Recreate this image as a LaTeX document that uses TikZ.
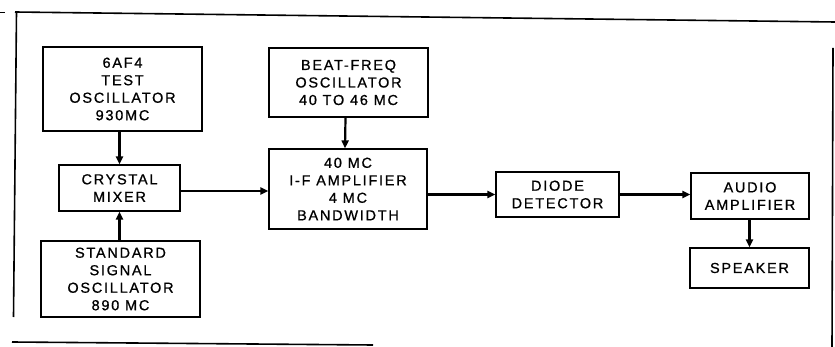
\documentclass[tikz,border=0pt]{standalone}
\usepackage{fontspec}
\setmainfont[LetterSpace=12,FakeBold=0.8]{Liberation Sans}
\usetikzlibrary{arrows.meta}
\begin{document}
\begin{tikzpicture}[x=1pt,y=-1pt,
  blk/.style={draw,line width=1.2pt,align=center,inner sep=0pt,
    font=\fontsize{14.5}{17.5}\selectfont},
  arr/.style={line width=2.2pt,-{Triangle[length=8pt,width=7pt]}},
  frame/.style={line width=1.6pt}]
\useasboundingbox (0,0) rectangle (835,347);
% frame
\draw[frame] (15,12) -- (835,22);
\draw[frame] (16.5,12) -- (13.5,317);
\draw[frame] (12,342) -- (373,345);
\draw[frame] (833,48) -- (832,347);
\draw[line width=0.8pt] (0,12) -- (5,12);
% blocks
\node[blk,minimum width=159pt,minimum height=84pt] (tosc) at (122.5,89) {6AF4\\TEST\\OSCILLATOR\\930MC};
\node[blk,minimum width=121pt,minimum height=46pt] (mix) at (119.5,188) {CRYSTAL\\MIXER};
\node[blk,minimum width=159pt,minimum height=76pt] (sso) at (120.5,279) {STANDARD\\SIGNAL\\OSCILLATOR\\890 MC};
\node[blk,minimum width=159pt,minimum height=69pt] (bfo) at (348.5,82.5) {BEAT-FREQ\\OSCILLATOR\\40 TO 46 MC};
\node[blk,minimum width=158pt,minimum height=80pt] (ifa) at (348,189) {40 MC\\I-F AMPLIFIER\\4 MC\\BANDWIDTH};
\node[blk,minimum width=123pt,minimum height=45pt] (det) at (557.5,194.5) {DIODE\\DETECTOR};
\node[blk,minimum width=118pt,minimum height=46pt] (aud) at (750,196) {AUDIO\\AMPLIFIER};
\node[blk,minimum width=119pt,minimum height=40pt] (spk) at (749.5,268) {SPEAKER};
% connectors
\draw[arr] (tosc.south -| mix) -- (mix.north);
\draw[arr] (sso.north -| mix) -- (mix.south);
\draw[arr] ([yshift=-3pt]mix.east) -- ([yshift=-3pt]mix.east -| ifa.west);
\draw[arr] ([xshift=-3pt]bfo.south) -- ([xshift=-3pt]ifa.north);
\draw[arr] (det.west -| ifa.east) -- (det.west);
\draw[arr] (det.east) -- (det.east -| aud.west);
\draw[arr] (aud.south -| spk) -- (spk.north);
\end{tikzpicture}
\end{document}
